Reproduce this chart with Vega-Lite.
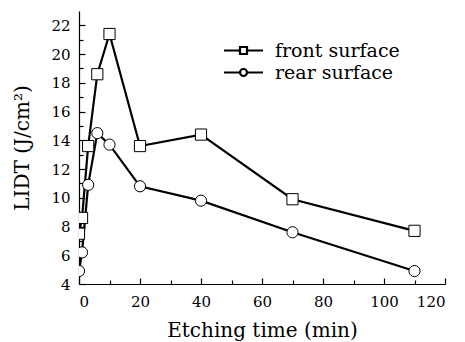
{
  "$schema": "https://vega.github.io/schema/vega-lite/v6.json",
  "width": 366,
  "height": 273,
  "autosize": "none",
  "padding": {"left": 79, "top": 11, "right": 20, "bottom": 58},
  "background": "white",
  "config": {
    "view": {"stroke": null},
    "axis": {
      "grid": false,
      "domainColor": "black",
      "domainWidth": 1.2,
      "tickColor": "black",
      "tickWidth": 1.2,
      "labelColor": "black",
      "titleColor": "black",
      "labelFont": "DejaVu Serif",
      "labelFontSize": 15,
      "titleFont": "DejaVu Serif",
      "titleFontSize": 20,
      "titleFontWeight": "normal"
    }
  },
  "data": {
    "values": [
      {"series": "front surface", "time": 0, "lidt": 7.5},
      {"series": "front surface", "time": 1, "lidt": 8.6},
      {"series": "front surface", "time": 3, "lidt": 13.6},
      {"series": "front surface", "time": 6, "lidt": 18.6},
      {"series": "front surface", "time": 10, "lidt": 21.4},
      {"series": "front surface", "time": 20, "lidt": 13.6},
      {"series": "front surface", "time": 40, "lidt": 14.4},
      {"series": "front surface", "time": 70, "lidt": 9.9},
      {"series": "front surface", "time": 110, "lidt": 7.7},
      {"series": "rear surface", "time": 0, "lidt": 4.9},
      {"series": "rear surface", "time": 1, "lidt": 6.2},
      {"series": "rear surface", "time": 3, "lidt": 10.9},
      {"series": "rear surface", "time": 6, "lidt": 14.5},
      {"series": "rear surface", "time": 10, "lidt": 13.7},
      {"series": "rear surface", "time": 20, "lidt": 10.8},
      {"series": "rear surface", "time": 40, "lidt": 9.8},
      {"series": "rear surface", "time": 70, "lidt": 7.6},
      {"series": "rear surface", "time": 110, "lidt": 4.9}
    ]
  },
  "layer": [
    {
      "mark": {"type": "line", "color": "black", "strokeWidth": 2.2, "clip": true},
      "encoding": {
        "x": {
          "field": "time", "type": "quantitative",
          "scale": {"domain": [0, 120], "nice": false},
          "axis": {"orient": "bottom", "values": [0, 20, 40, 60, 80, 100, 120], "tickSize": -6, "labelPadding": 16, "title": "Etching time (min)", "titlePadding": 11}
        },
        "y": {
          "field": "lidt", "type": "quantitative",
          "scale": {"domain": [4, 23], "nice": false, "zero": false},
          "axis": {"orient": "left", "values": [4, 6, 8, 10, 12, 14, 16, 18, 20, 22], "tickSize": -6, "labelPadding": 15, "title": "LIDT (J/cm²)", "titlePadding": 18}
        },
        "detail": {"field": "series"}
      }
    },
    {
      "mark": {"type": "point", "filled": true, "fill": "white", "stroke": "black", "strokeWidth": 1, "size": 125, "opacity": 1, "clip": true},
      "encoding": {
        "x": {"field": "time", "type": "quantitative", "axis": {"orient": "bottom", "values": [10, 30, 50, 70, 90, 110], "tickSize": -4, "labels": false, "domain": false, "title": null}},
        "y": {"field": "lidt", "type": "quantitative", "axis": {"orient": "left", "values": [5, 7, 9, 11, 13, 15, 17, 19, 21], "tickSize": -4, "labels": false, "domain": false, "title": null}},
        "shape": {
          "field": "series", "type": "nominal",
          "scale": {"domain": ["front surface", "rear surface"], "range": ["square", "circle"]},
          "legend": null
        }
      }
    },
    {
      "mark": {"type": "point", "opacity": 0, "clip": true},
      "encoding": {
        "x": {"field": "time", "type": "quantitative", "axis": null},
        "y": {"field": "lidt", "type": "quantitative", "axis": null},
        "shape": {
          "field": "series", "type": "nominal",
          "scale": {
            "domain": ["front surface", "rear surface"],
            "range": [
              "M-1.95,0H-0.38M0.38,0H1.95M-0.35,-0.35H0.35V0.35H-0.35Z",
              "M-1.95,0H-0.38M0.38,0H1.95M-0.35,0A0.35,0.35 0 1,0 0.35,0A0.35,0.35 0 1,0 -0.35,0Z"
            ]
          },
          "legend": {
            "orient": "none",
            "legendX": 153,
            "legendY": 28,
            "title": null,
            "symbolSize": 400,
            "symbolStrokeWidth": 2.2,
            "symbolStrokeColor": "black",
            "symbolFillColor": "white",
            "symbolOpacity": 1,
            "labelOffset": 20,
            "labelFont": "DejaVu Serif",
            "labelFontSize": 19,
            "labelColor": "black",
            "labelLimit": 300,
            "rowPadding": 0,
            "padding": 0
          }
        }
      }
    }
  ],
  "resolve": {
    "scale": {"shape": "independent"},
    "legend": {"shape": "independent"},
    "axis": {"x": "independent", "y": "independent"}
  }
}
